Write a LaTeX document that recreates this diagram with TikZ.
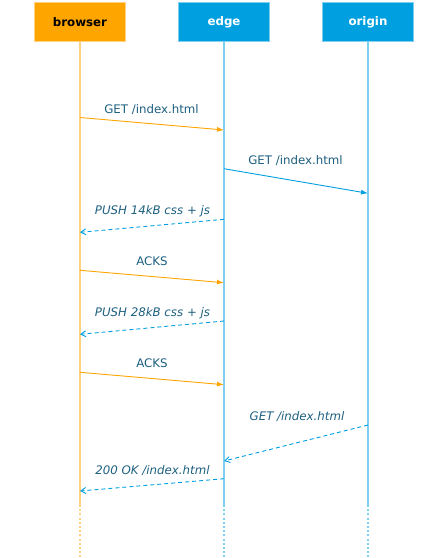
\documentclass[tikz,border=0pt]{standalone}
\usepackage{fontspec}
\setmainfont{DejaVu Sans}
\usetikzlibrary{positioning, arrows.meta, calc}

\definecolor{browserorange}{HTML}{FFA500}
\definecolor{browserline}{HTML}{FFD27F}
\definecolor{edgeblue}{HTML}{00A0E0}
\definecolor{edgeline}{HTML}{7FCFF0}
\definecolor{msgtext}{HTML}{1D5F80}

\tikzset{
  actor/.style={minimum width=91pt, minimum height=39pt, line width=0.8pt, font=\bfseries\fontsize{11.8}{14}\selectfont},
  lifeline/.style={line width=1.6pt},
  tailline/.style={line width=1.6pt, dash pattern=on 2pt off 2.2pt},
  msg/.style={anchor=base, inner sep=0pt, text=msgtext, font=\fontsize{11.8}{14}\selectfont},
  pushmsg/.style={msg, font=\itshape\fontsize{11.8}{14}\selectfont},
  call/.style={line width=0.9pt, -{Latex[length=7pt,width=5pt]}},
  reply/.style={line width=0.9pt, edgeblue, dash pattern=on 4pt off 3pt, -{Straight Barb[length=5pt,width=6pt]}}
}

\begin{document}
\begin{tikzpicture}[x=1pt, y=-1pt]
  \useasboundingbox (0,0) rectangle (448,558);

  % participants
  \node[actor, fill=browserorange, draw=browserline] (browser) at (80,21.8) {browser};
  \node[actor, fill=edgeblue, draw=edgeline, text=white] (edge) at (224,21.8) {edge};
  \node[actor, fill=edgeblue, draw=edgeline, text=white] (origin) at (368,21.8) {origin};

  % lifelines
  \coordinate (browser end) at (80,505);
  \coordinate (edge end) at (224,505);
  \coordinate (origin end) at (368,505);
  \coordinate (browser foot) at (80,558);
  \coordinate (edge foot) at (224,558);
  \coordinate (origin foot) at (368,558);
  \draw[lifeline, browserline] (browser.south) -- (browser end);
  \draw[lifeline, edgeline] (edge.south) -- (edge end);
  \draw[lifeline, edgeline] (origin.south) -- (origin end);
  \draw[tailline, browserline] (browser end) -- (browser foot);
  \draw[tailline, edgeline] (edge end) -- (edge foot);
  \draw[tailline, edgeline] (origin end) -- (origin foot);

  % message end points
  \coordinate (b1) at (80,117.5);  \coordinate (e1) at (224,130);
  \coordinate (e2) at (224,168.7); \coordinate (o2) at (368,193.3);
  \coordinate (e3) at (224,219.3); \coordinate (b3) at (80,232.3);
  \coordinate (b4) at (80,270.3);  \coordinate (e4) at (224,282.7);
  \coordinate (e5) at (224,321);   \coordinate (b5) at (80,334.3);
  \coordinate (b6) at (80,372.3);  \coordinate (e6) at (224,384.7);
  \coordinate (o7) at (368,425);   \coordinate (e7) at (224,461);
  \coordinate (e8) at (224,478.7); \coordinate (b8) at (80,491);

  % messages
  \node[msg] (m1) at (151.5,113) {GET /index.html};
  \draw[call, browserorange] (b1) -- (e1);

  \node[msg] (m2) at (295.5,164) {GET /index.html};
  \draw[call, edgeblue] (e2) -- (o2);

  \node[pushmsg] (m3) at (152.5,214.5) {PUSH 14kB css + js};
  \draw[reply] (e3) -- (b3);

  \node[msg] (m4) at (152,265.7) {ACKS};
  \draw[call, browserorange] (b4) -- (e4);

  \node[pushmsg] (m5) at (152.5,316) {PUSH 28kB css + js};
  \draw[reply] (e5) -- (b5);

  \node[msg] (m6) at (152,367.7) {ACKS};
  \draw[call, browserorange] (b6) -- (e6);

  \node[pushmsg] (m7) at (297,420.7) {GET /index.html};
  \draw[reply] (o7) -- (e7);

  \node[pushmsg] (m8) at (152.5,474) {200 OK /index.html};
  \draw[reply] (e8) -- (b8);
\end{tikzpicture}
\end{document}
